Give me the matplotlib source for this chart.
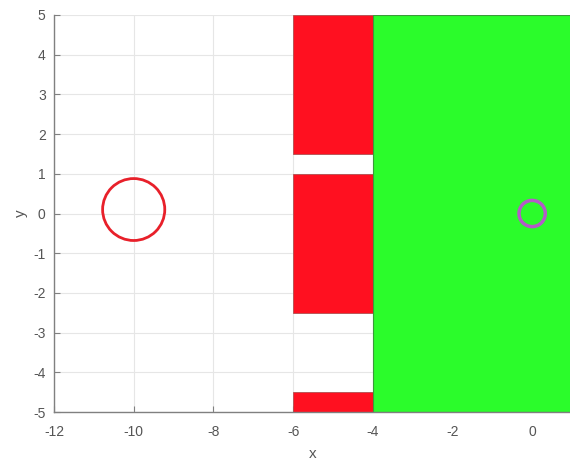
import numpy as np
import matplotlib
matplotlib.use("Agg")
import matplotlib.pyplot as plt
from matplotlib.patches import Rectangle, Circle

# Obstacle blocks (x, y, width, height)
red_x = [-6, -6, -6]
red_y = [1.5, -2.5, -5]
red_w = [2, 2, 2]
red_h = [3.5, 3.5, 0.5]

# Goal region
green_x, green_y, green_w, green_h = -4, -5, 6, 10

# Start and target circles
start_center = (-10, 0.1)
start_radius = 0.78
goal_center = (0, 0)
goal_radius = 0.33

x_ticks = [-12, -10, -8, -6, -4, -2, 0]
y_ticks = [-5, -4, -3, -2, -1, 0, 1, 2, 3, 4, 5]

plt.rcParams['font.family'] = ['Liberation Sans', 'DejaVu Sans']
plt.rcParams['axes.unicode_minus'] = False

fig = plt.figure(figsize=(5.7, 4.63), dpi=100)
ax = fig.add_axes([54 / 570, 51 / 463, (572 - 54) / 570, (412 - 15) / 463])

ax.set_xlim(-12, 1)
ax.set_ylim(-5, 5)

ax.set_xticks(x_ticks)
ax.set_yticks(y_ticks)
ax.grid(True, color='#e6e6e6', linewidth=0.8)
ax.set_axisbelow(True)

for x, y, w, h in zip(red_x, red_y, red_w, red_h):
    ax.add_patch(Rectangle((x, y), w, h, facecolor='#ff1020',
                           edgecolor='#b05050', linewidth=0.6, zorder=3))

ax.add_patch(Rectangle((green_x, green_y), green_w, green_h,
                       facecolor='#2bfc2b', edgecolor='#3a9a3a',
                       linewidth=0.8, zorder=3))

ax.add_patch(Circle(start_center, start_radius, fill=False,
                    edgecolor='#e8202a', linewidth=2.0, zorder=4))
ax.add_patch(Circle(goal_center, goal_radius, fill=False,
                    edgecolor='#b45ac8', linewidth=2.5, zorder=4))

for s in ['top', 'right']:
    ax.spines[s].set_visible(False)
for s in ['left', 'bottom']:
    ax.spines[s].set_color('#808080')
    ax.spines[s].set_linewidth(1.0)
    ax.spines[s].set_zorder(5)

ax.tick_params(direction='in', length=4, colors='#808080',
               labelcolor='#555555', labelsize=10, width=0.8)
ax.tick_params(axis='x', pad=9)
ax.tick_params(axis='y', pad=6)
ax.set_xlabel('x', color='#555555', fontsize=11, labelpad=6)
ax.set_ylabel('y', color='#555555', fontsize=11, labelpad=4)

fig.savefig('out.png', dpi=100)
